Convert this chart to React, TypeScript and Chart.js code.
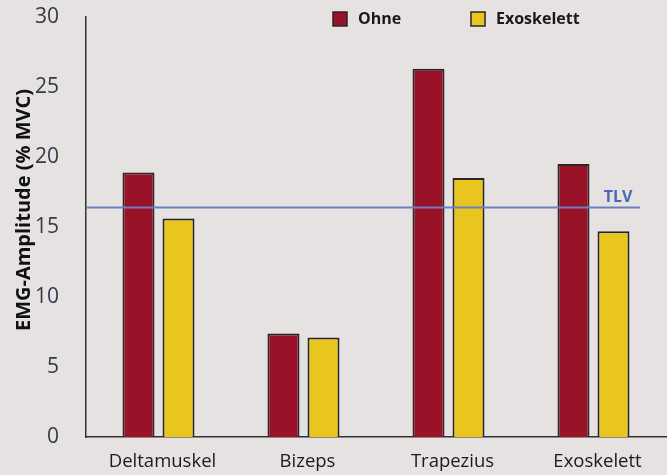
import React, { useEffect, useRef } from "react";
import { Chart, registerables } from "chart.js";

Chart.register(...registerables);

// Muscle groups measured
const categories = ["Deltamuskel", "Bizeps", "Trapezius", "Exoskelett"];
// Mean EMG amplitude in % MVC
const ohneValues = [18.9, 7.4, 26.3, 19.5];
const exoValues = [15.6, 7.1, 18.5, 14.7];
// Threshold limit value
const tlvValue = 16.4;
const tlvLabel = "TLV";
const yTitle = "EMG-Amplitude (% MVC)";
const seriesNames = ["Ohne", "Exoskelett"];

const RED = "#9a1228";
const YELLOW = "#e9c61f";
const EDGE = "#2a2626";
const BG = "#e5e2e1";
const FONT = "'Open Sans', sans-serif";

const decorPlugin = {
  id: "decor",
  beforeDraw(chart: any) {
    const { ctx, width, height } = chart;
    ctx.save();
    ctx.fillStyle = BG;
    ctx.fillRect(0, 0, width, height);
    ctx.restore();
  },
  afterDraw(chart: any) {
    const { ctx, chartArea } = chart;
    const y = chart.scales.y;
    ctx.save();

    // TLV reference line
    const ty = y.getPixelForValue(tlvValue);
    ctx.strokeStyle = "#6a80bf";
    ctx.lineWidth = 2;
    ctx.beginPath();
    ctx.moveTo(chartArea.left, ty);
    ctx.lineTo(chartArea.right - 26, ty);
    ctx.stroke();
    ctx.fillStyle = "#4a68b3";
    ctx.font = `bold 16px ${FONT}`;
    ctx.textAlign = "center";
    ctx.textBaseline = "alphabetic";
    ctx.fillText(tlvLabel, chartArea.right - 48, ty - 5);

    // Y axis title
    ctx.save();
    ctx.translate(24, 210);
    ctx.rotate(-Math.PI / 2);
    ctx.fillStyle = "#111";
    ctx.font = `bold 20px ${FONT}`;
    ctx.textAlign = "center";
    ctx.textBaseline = "middle";
    ctx.fillText(yTitle, 0, 0);
    ctx.restore();

    // Legend
    const colors = [RED, YELLOW];
    const xs = [333, 471];
    ctx.font = `bold 16px ${FONT}`;
    ctx.textAlign = "left";
    ctx.textBaseline = "middle";
    seriesNames.forEach((name, i) => {
      ctx.fillStyle = colors[i];
      ctx.fillRect(xs[i], 12, 14, 14);
      ctx.strokeStyle = EDGE;
      ctx.lineWidth = 1.5;
      ctx.strokeRect(xs[i], 12, 14, 14);
      ctx.fillStyle = "#1a1a1a";
      ctx.fillText(name, xs[i] + 25, 19.5);
    });
    ctx.restore();
  },
};

export default function App() {
  const ref = useRef<HTMLCanvasElement>(null);

  useEffect(() => {
    if (!ref.current) return;
    const chart = new Chart(ref.current, {
      type: "bar",
      data: {
        labels: categories,
        datasets: [
          {
            label: seriesNames[0],
            data: ohneValues,
            backgroundColor: RED,
            borderColor: EDGE,
            borderWidth: 2,
            categoryPercentage: 0.552,
            barPercentage: 0.8,
          },
          {
            label: seriesNames[1],
            data: exoValues,
            backgroundColor: YELLOW,
            borderColor: EDGE,
            borderWidth: 2,
            categoryPercentage: 0.552,
            barPercentage: 0.8,
          },
        ],
      },
      options: {
        responsive: false,
        animation: false,
        layout: { padding: { top: 17, left: 0, right: 1, bottom: 0 } },
        plugins: {
          legend: { display: false },
          tooltip: { enabled: false },
        },
        scales: {
          x: {
            grid: { display: false },
            border: { display: true, color: "#333", width: 1.5 },
            ticks: {
              color: "#1a1a1a",
              font: { family: FONT, size: 18.5 },
              padding: 6,
              labelOffset: 4,
            },
            afterFit(scale: any) {
              scale.height = 38;
            },
          },
          y: {
            min: 0,
            max: 30,
            grid: { display: false },
            border: { display: true, color: "#333", width: 1.5 },
            ticks: {
              stepSize: 5,
              color: "#33394a",
              font: { family: FONT, size: 21 },
              padding: 19,
            },
            afterFit(scale: any) {
              scale.width = 86;
              scale.paddingTop = 0;
              scale.paddingBottom = 0;
            },
          },
        },
      },
      plugins: [decorPlugin],
    });
    return () => chart.destroy();
  }, []);

  return (
    <div style={{ position: "absolute", left: 0, top: 0, width: 667, height: 475 }}>
      <canvas ref={ref} width={667} height={475} />
    </div>
  );
}
